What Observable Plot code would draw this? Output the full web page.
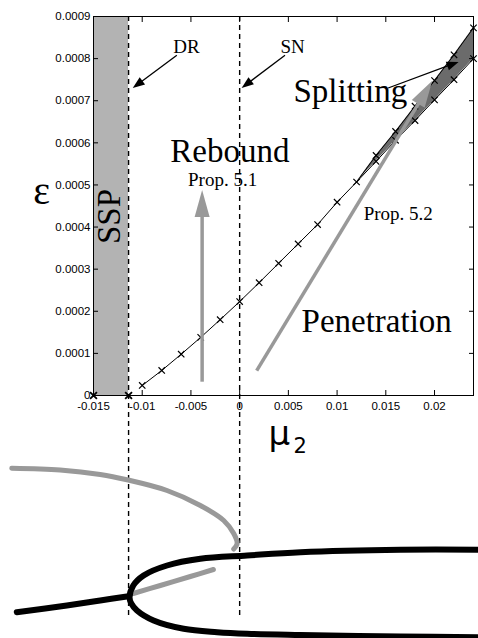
<!DOCTYPE html>
<html><head><meta charset="utf-8">
<script src="https://cdn.jsdelivr.net/npm/d3@7"></script>
<script src="https://cdn.jsdelivr.net/npm/@observablehq/plot@0.6"></script>
<style>body{margin:0;background:#fff}</style>
</head><body><div id="chart"></div>
<script>
// ---------- data ----------
const xTicks = [-0.015, -0.01, -0.005, 0, 0.005, 0.01, 0.015, 0.02];
const yTicks = [0, 0.0001, 0.0002, 0.0003, 0.0004, 0.0005, 0.0006, 0.0007, 0.0008, 0.0009];
const DR = -0.0114, SN = 0;
const dashBottom = -0.000527;

// computed curve (mu2, epsilon)
const mainMu  = [-0.01, -0.008, -0.006, -0.004, -0.002, 0, 0.002, 0.004, 0.006, 0.008, 0.01, 0.012];
const mainEps = [0.0000238, 0.0000594, 0.000098, 0.000138, 0.00018, 0.000223, 0.000268, 0.000314, 0.00036, 0.000406, 0.000459, 0.000507];
const splitMu  = [0.012, 0.014, 0.016, 0.018, 0.02, 0.022, 0.024];
const upperEps = [0.000507, 0.00057, 0.000627, 0.000687, 0.000748, 0.000809, 0.000873];
const lowerEps = [0.000507, 0.000556, 0.000606, 0.000653, 0.000702, 0.00075, 0.0008];
const zeroMu  = [-0.015, DR];
const zeroEps = [0, 0];

// schematic bifurcation diagram below the axis (mu2, state)
const grayUpperMu = [-0.02339, -0.018423, -0.014311, -0.011567, -0.007455, -0.004032, -0.001636, -0.000609, -0.000259, -0.000609];
const grayUpperS  = [-0.0001726, -0.0001769, -0.0001876, -0.0002002, -0.0002256, -0.0002612, -0.0002968, -0.0003277, -0.0003515, -0.0003645];
const grayLowerMu = [-0.002695, -0.00506, -0.008144, -0.010919];
const grayLowerS  = [-0.0004132, -0.0004298, -0.0004512, -0.0004702];
const blackTailMu = [-0.022874, -0.017734, -0.014311, -0.011402];
const blackTailS  = [-0.0005146, -0.0004987, -0.0004868, -0.0004766];
const blackFoldMu = [0.025, 0.016528, 0.006248, 0.000769, -0.004032, -0.007455, -0.00986, -0.010919, -0.011299, -0.011125, -0.010539, -0.008832, -0.005748, -0.002315, 0.000769, 0.006248, 0.016528, 0.025];
const blackFoldS  = [-0.0003664, -0.0003664, -0.0003721, -0.00038, -0.0003878, -0.0004037, -0.0004274, -0.0004512, -0.000479, -0.0004939, -0.0005106, -0.0005343, -0.000554, -0.0005621, -0.0005659, -0.0005687, -0.0005723, -0.000574];

// annotation arrows (start mu, start eps, end mu, end eps)
const grayArrowX1 = [-0.0038, 0.0018];
const grayArrowY1 = [0.0000316, 0.0000577];
const grayArrowX2 = [-0.0038, 0.019817];
const grayArrowY2 = [0.000487, 0.000746];
const blackArrowX1 = [-0.006396, 0.004706, 0.015294];
const blackArrowY1 = [0.000807, 0.000807, 0.000729];
const blackArrowX2 = [-0.010919, 0.000255, 0.022521];
const blackArrowY2 = [0.000729, 0.000729, 0.000791];

// annotation labels
const smallText = ["DR", "SN", "Prop. 5.1", "Prop. 5.2"];
const smallMu   = [-0.006807, 0.004193, -0.005296, 0.012724];
const smallEps  = [0.0008145, 0.0008145, 0.0004975, 0.0004156];
const bigText = ["Rebound", "Splitting", "Penetration"];
const bigMu   = [-0.007116, 0.005528, 0.006351];
const bigEps  = [0.0005533, 0.0006965, 0.0001503];
const sspLabel = ["SSP"], sspMu = [-0.012255], sspEps = [0.000425];
const epsLabel = ["ε"], epsMu = [-0.020325], epsEps = [0.0004536];
const muLabel = ["μ"], muMu = [0.002958], muEps = [-0.0001187];
const subLabel = ["2"], subMu = [0.005528], subEps = [-0.0001377];

// ---------- tables ----------
const zip = (xs, ys) => xs.map((x, i) => ({x, y: ys[i]}));
const mainPts = zip(mainMu, mainEps);
const upperPts = zip(splitMu, upperEps);
const lowerPts = zip(splitMu, lowerEps);
const splitBand = splitMu.map((x, i) => ({x, lo: lowerEps[i], hi: upperEps[i]}));
const zeroPts = zip(zeroMu, zeroEps);
const allPts = [...mainPts, ...upperPts.slice(1), ...lowerPts.slice(1)];
const grayArrows = grayArrowX1.map((x1, i) => ({x1, y1: grayArrowY1[i], x2: grayArrowX2[i], y2: grayArrowY2[i]}));
const blackArrows = blackArrowX1.map((x1, i) => ({x1, y1: blackArrowY1[i], x2: blackArrowX2[i], y2: blackArrowY2[i]}));
const labels = (t, xs, ys) => t.map((text, i) => ({text, x: xs[i], y: ys[i]}));

// arrows with filled heads, positioned through Plot's scales
function arrows(data, {color, width, len, half}) {
  return (index, scales) => {
    const ns = "http://www.w3.org/2000/svg";
    const g = document.createElementNS(ns, "g");
    for (const a of data) {
      const x1 = scales.x(a.x1), y1 = scales.y(a.y1), x2 = scales.x(a.x2), y2 = scales.y(a.y2);
      const dx = x2 - x1, dy = y2 - y1, L = Math.hypot(dx, dy), ux = dx / L, uy = dy / L;
      const bx = x2 - ux * len, by = y2 - uy * len;
      const line = document.createElementNS(ns, "line");
      line.setAttribute("x1", x1); line.setAttribute("y1", y1);
      line.setAttribute("x2", bx + ux * 1); line.setAttribute("y2", by + uy * 1);
      line.setAttribute("stroke", color); line.setAttribute("stroke-width", width);
      g.appendChild(line);
      const poly = document.createElementNS(ns, "polygon");
      poly.setAttribute("points", `${x2},${y2} ${bx - uy * half},${by + ux * half} ${bx + uy * half},${by - ux * half}`);
      poly.setAttribute("fill", color);
      g.appendChild(poly);
    }
    return g;
  };
}

const serif = "Liberation Serif";
const chart = Plot.plot({
  width: 478, height: 638,
  marginLeft: 93, marginRight: 5, marginTop: 16, marginBottom: 243,
  x: {domain: [-0.015, 0.024]},
  y: {domain: [0, 0.0009]},
  style: {fontFamily: "Liberation Sans", fontSize: "11.5px", background: "white", overflow: "visible"},
  marks: [
    Plot.rect([zeroMu], {x1: d => d[0], x2: d => d[1], y1: yTicks[0], y2: yTicks[yTicks.length - 1], fill: "#b3b3b3"}),
    Plot.areaY(splitBand, {x: "x", y1: "lo", y2: "hi", fill: "#6b6b6b"}),
    Plot.ruleX([DR, SN], {y1: yTicks[yTicks.length - 1], y2: dashBottom, stroke: "black", strokeWidth: 1.4, strokeDasharray: "5,4"}),
    // lower schematic diagram
    Plot.line(zip(grayUpperMu, grayUpperS), {x: "x", y: "y", stroke: "#999", strokeWidth: 5, curve: "catmull-rom"}),
    Plot.line(zip(grayLowerMu, grayLowerS), {x: "x", y: "y", stroke: "#999", strokeWidth: 5, curve: "catmull-rom"}),
    Plot.line(zip(blackTailMu, blackTailS), {x: "x", y: "y", stroke: "black", strokeWidth: 6, curve: "catmull-rom"}),
    Plot.line(zip(blackFoldMu, blackFoldS), {x: "x", y: "y", stroke: "black", strokeWidth: 6, curve: "catmull-rom"}),
    // computed curve
    Plot.line([...mainPts, ...upperPts.slice(1)], {x: "x", y: "y", stroke: "black", strokeWidth: 1}),
    Plot.line(lowerPts, {x: "x", y: "y", stroke: "black", strokeWidth: 1}),
    Plot.dot(allPts, {x: "x", y: "y", symbol: "times", r: 3, stroke: "black", strokeWidth: 1.2}),
    Plot.dot(zeroPts, {x: "x", y: "y", symbol: "times", r: 3.2, stroke: "black", strokeWidth: 1.8}),
    // arrows
    arrows(grayArrows, {color: "#999", width: 3.5, len: 27, half: 7.5}),
    arrows(blackArrows, {color: "black", width: 1.3, len: 12, half: 4.5}),
    // labels
    Plot.text(labels(smallText, smallMu, smallEps), {x: "x", y: "y", text: "text", fontFamily: serif, fontSize: 19, textAnchor: "start", lineAnchor: "bottom", fill: "black"}),
    Plot.text(labels(bigText, bigMu, bigEps), {x: "x", y: "y", text: "text", fontFamily: serif, fontSize: 33, textAnchor: "start", lineAnchor: "bottom", fill: "black"}),
    Plot.text(labels(sspLabel, sspMu, sspEps), {x: "x", y: "y", text: "text", fontFamily: serif, fontSize: 33, rotate: -90, textAnchor: "middle", lineAnchor: "bottom", fill: "black"}),
    Plot.text(labels(epsLabel, epsMu, epsEps), {x: "x", y: "y", text: "text", fontFamily: serif, fontSize: 40, textAnchor: "middle", lineAnchor: "bottom", fill: "black"}),
    Plot.text(labels(muLabel, muMu, muEps), {x: "x", y: "y", text: "text", fontFamily: "DejaVu Sans", fontSize: 34, textAnchor: "start", lineAnchor: "bottom", fill: "black"}),
    Plot.text(labels(subLabel, subMu, subEps), {x: "x", y: "y", text: "text", fontFamily: "DejaVu Sans", fontSize: 21, textAnchor: "start", lineAnchor: "bottom", fill: "black"}),
    // axes & frame
    Plot.axisX(xTicks, {anchor: "bottom", tickSize: -5, tickPadding: 11, tickFormat: d => String(d), label: null, fill: "black", stroke: "black"}),
    Plot.axisX(xTicks, {anchor: "top", tickSize: -5, tickFormat: () => "", label: null, stroke: "black"}),
    Plot.axisY(yTicks, {anchor: "left", tickSize: -5, tickPadding: 8, tickFormat: d => String(d), label: null, fill: "black", stroke: "black"}),
    Plot.axisY(yTicks, {anchor: "right", tickSize: -5, tickFormat: () => "", label: null, stroke: "black"}),
    Plot.frame({stroke: "black"})
  ]
});
document.getElementById("chart").appendChild(chart);
</script>
</body></html>
